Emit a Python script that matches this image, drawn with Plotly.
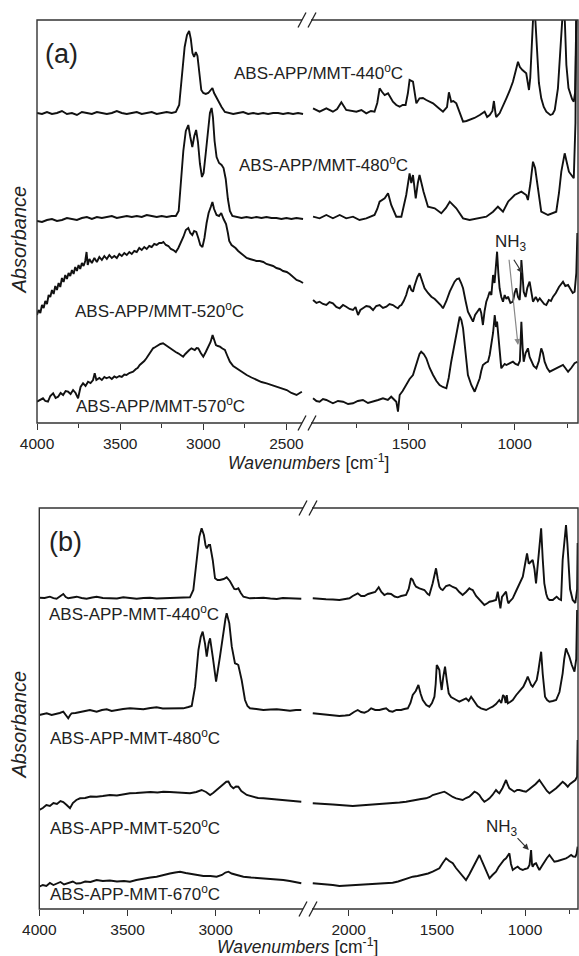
import plotly.graph_objects as go

# ---------------- DATA (wavenumber [cm-1], absorbance in arbitrary offset units) ----------------
# Panel (a) ABS-APP/MMT
a440_left = [(4000,310),(3970,309),(3940,311),(3910,309),(3880,310),(3850,312),(3820,309),(3790,310),(3760,308),
             (3730,311),(3700,310),(3670,309),(3640,311),(3610,310),(3580,309),(3550,310),(3520,312),(3490,310),
             (3460,309),(3430,310),(3400,311),(3370,309),(3340,310),(3310,311),(3280,309),(3250,310),(3220,311),
             (3190,310),(3165,311),(3145,318),(3128,345),(3112,376),(3098,388),(3085,392),(3075,384),(3065,370),
             (3055,366),(3045,371),(3035,367),(3024,350),(3012,333),(3000,330),(2985,329),(2970,330),(2955,333),
             (2945,335),(2935,330),(2920,325),(2905,321),(2890,316),(2870,311),(2850,310),(2820,309),(2790,310),
             (2760,311),(2730,309),(2700,310),(2670,309),(2640,310),(2610,309),(2580,310),(2550,310),(2520,309),
             (2490,310),(2460,309),(2430,310),(2400,309)]
a440_right = [(1954,314.7),(1923,311.3),(1891,314.7),(1860,311.3),(1840,314),(1820,320.7),(1797,313),(1775,312),
              (1749,311.3),(1725,313),(1702,309.7),(1680,312),(1663,311.3),(1650,320),(1639,334.7),(1627,331),
              (1615,328),(1599,329.7),(1588,325),(1576,321.3),(1560,318),(1544,316.3),(1530,318),(1516,318),
              (1505,330),(1497,343),(1481,341.3),(1473,330),(1465,319.7),(1450,324.7),(1434,325),(1418,323),
              (1400,321),(1386,319.7),(1360,315),(1339,311.3),(1320,316),(1311,330.7),(1300,321.3),(1290,322),
              (1276,319.7),(1260,310),(1244,301.3),(1228,302),(1213,303),(1190,305),(1165,308),(1150,310),
              (1142,311.3),(1130,306),(1118,308),(1105,312),(1098,322),(1090,309),(1087,306),(1071,309.7),
              (1055,318),(1039,324.7),(1024,332),(1008,341.3),(995,352),(984,361.3),(975,356),(963,353),
              (945,349.7),(932,333),(926,345),(921,368),(915,400),(908,425),(901,400),(894,368),(885,340),
              (874,324.7),(862,316),(850,311.3),(840,309),(831,308),(820,309),(810,313),(795,334.7),(785,365),
              (779,388),(774,410),(768,425),(762,400),(755,358),(745,335),(736,328),(728,324),(720,321.3),
              (714,330),(710,380),(707,425),(705,430)]

a480_left = [(4000,202),(3970,201),(3940,203),(3910,204),(3880,202),(3850,203),(3820,205),(3790,204),(3760,203),
             (3730,205),(3700,206),(3670,204),(3640,206),(3610,205),(3580,206),(3550,207),(3520,205),(3490,206),
             (3460,207),(3430,206),(3400,207),(3370,206),(3340,208),(3310,207),(3280,206),(3250,207),(3220,206),
             (3190,207),(3165,207),(3148,212),(3135,238),(3120,272),(3105,292),(3090,298),(3078,286),(3066,276),
             (3054,287),(3043,293),(3032,281),(3020,259),(3008,246),(2998,250),(2985,270),(2972,294),(2960,310),
             (2950,315),(2942,306),(2932,282),(2920,266),(2905,260),(2890,258),(2878,255),(2865,244),(2852,224),
             (2840,212),(2825,207),(2800,206),(2770,205),(2740,206),(2710,205),(2680,206),(2650,205),(2620,206),
             (2590,205),(2560,205),(2530,204),(2500,205),(2470,204),(2440,205),(2400,204)]
a480_right = [(1954,206.3),(1923,204.7),(1891,208),(1860,204.7),(1828,208),(1797,204.7),(1765,206.3),(1734,203),
              (1702,204.7),(1663,208),(1650,214),(1639,221.3),(1615,224.7),(1599,229.7),(1584,218),(1560,206.3),
              (1536,206.3),(1513,228),(1497,249.7),(1489,240),(1481,248),(1468,224.7),(1458,240),(1450,248),
              (1431,231.3),(1410,216.3),(1378,214.7),(1347,209.7),(1325,215),(1307,221.3),(1276,214.7),
              (1244,204.7),(1213,203),(1190,204),(1165,204.7),(1134,206.3),(1102,211.3),(1079,216.3),(1055,211.3),
              (1031,221.3),(1000,228),(968,231.3),(945,228),(937,223),(925,240),(913,261.3),(903,255),(894,241.3),
              (874,211.3),(842,208),(803,211.3),(790,230),(779,251.3),(763,269.7),(743,251.3),(720,244.7),
              (712,300),(708,425)]

a520_left = [(4000,108),(3990,113),(3980,110),(3970,118),(3960,115),(3950,122),(3940,119),(3930,128),(3920,126),
             (3910,133),(3900,129),(3890,137),(3880,133),(3870,140),(3860,136),(3850,145),(3840,141),(3830,148),
             (3820,144),(3810,150),(3800,147),(3790,153),(3780,149),(3770,156),(3760,152),(3750,158),(3740,154),
             (3730,160),(3720,157),(3710,162),(3702,171),(3695,158),(3685,164),(3670,160),(3655,165),(3640,161),
             (3625,166),(3610,163),(3595,167),(3580,164),(3565,168),(3550,165),(3535,167),(3520,165),(3505,169),
             (3490,167),(3475,170),(3460,168),(3445,171),(3430,169),(3415,172),(3400,171),(3385,175),(3370,173),
             (3355,176),(3340,174),(3325,177),(3310,176),(3295,179),(3280,178),(3265,180),(3250,180),(3240,181),
             (3225,178),(3210,177),(3195,174),(3180,173),(3165,171),(3150,175),(3135,180),(3120,186),(3105,193),
             (3090,195),(3078,190),(3066,188),(3055,192),(3042,191),(3030,185),(3018,178),(3005,176),(2993,185),
             (2980,200),(2968,210),(2955,216),(2945,221),(2935,214),(2920,208),(2905,207),(2892,210),(2878,204),
             (2863,199),(2852,190),(2844,182),(2830,178),(2806,175),(2790,172),(2770,169),(2750,166),(2739,165),
             (2720,164),(2700,163),(2680,162),(2660,162),(2639,161),(2620,159),(2599,158),(2580,157),(2560,155),
             (2540,154),(2520,152),(2498,151),(2480,149),(2460,146),(2439,143),(2420,142),(2400,140)]
a520_right = [(1954,123),(1938,120),(1923,121.3),(1907,119),(1891,118),(1876,121),(1860,119.7),(1844,116),
              (1828,114.7),(1812,118),(1797,116.3),(1781,114),(1765,113),(1753,116),(1741,108),(1730,113),
              (1718,114.7),(1702,117),(1686,116.3),(1670,113),(1655,117),(1639,118),(1623,115),(1607,116.3),
              (1592,119),(1576,118),(1563,116),(1552,114.7),(1544,117),(1536,118),(1525,122),(1513,128),
              (1505,134),(1497,138),(1489,133),(1481,131.3),(1474,137),(1468,141.3),(1460,146),(1450,149.7),
              (1438,142),(1426,134.7),(1410,130),(1394,126.3),(1378,124),(1363,121.3),(1350,118),(1339,114.7),
              (1323,122),(1307,131.3),(1295,137),(1284,141.3),(1273,144),(1263,144.7),(1253,140),(1244,134.7),
              (1232,122),(1221,111.3),(1208,106),(1197,101.3),(1187,108),(1176,112),(1165,114.7),(1158,110),
              (1150,98),(1142,112),(1134,121.3),(1126,126),(1118,131.3),(1110,128),(1102,148),(1095,140),
              (1088,160),(1083,171.3),(1077,150),(1071,134.7),(1063,126),(1055,121.3),(1047,128),(1039,124),
              (1031,126.3),(1020,120),(1008,121.3),(1000,130),(992,134.7),(984,126),(976,123),(971,140),
              (968,163),(963,145),(957,131.3),(948,126),(940,135),(929,141.3),(921,130),(913,121.3),(900,126),
              (890,122),(881,124.7),(870,121),(860,119),(850,118),(838,123),(828,122),(818,126.3),(805,130),
              (790,136),(771,141.3),(760,137),(747,138),(735,133),(725,130),(716,131.3),(708,150),(703,190)]

a570_left = [(4000,21.3),(3982,23),(3964,24.7),(3950,22),(3934,21.3),(3920,27),(3903,29.7),(3888,25),(3873,26.3),
             (3858,30),(3843,28),(3828,32),(3813,31.3),(3798,29),(3783,33),(3768,30),(3753,24.7),(3738,36),
             (3723,39.7),(3708,37),(3693,41.3),(3678,40),(3663,43),(3653,49.7),(3643,43),(3625,45),(3610,43),
             (3595,46),(3582,44.7),(3565,46),(3550,44),(3535,46.5),(3522,45.3),(3505,47),(3490,46),(3475,48.5),
             (3462,48),(3445,50),(3432,50.5),(3422,51.3),(3405,54),(3395,55),(3382,58),(3368,60),(3355,62),
             (3342,64.7),(3330,68),(3318,70),(3302,74.7),(3288,76),(3272,78),(3258,79),(3242,79.7),(3228,78),
             (3212,76.3),(3196,75),(3181,73),(3166,71),(3151,69.7),(3136,68),(3121,66.3),(3108,69),(3097,71.3),
             (3084,73),(3071,74.7),(3060,73.5),(3051,73),(3040,75),(3030,74.7),(3015,70),(3000,66.3),(2985,71),
             (2970,76.3),(2956,81),(2944,88),(2934,83),(2924,78),(2912,77),(2900,76.3),(2885,74.5),(2870,73),
             (2855,67),(2840,61.3),(2820,57),(2800,54.7),(2770,51),(2739,48),(2710,45.5),(2679,43),(2650,41),
             (2619,39.7),(2590,38),(2559,36.3),(2530,34.5),(2498,33),(2470,30),(2439,28),(2420,30),(2407,31.3)]
a570_right = [(1954,24.7),(1938,22),(1923,21.3),(1907,24),(1891,23),(1876,21),(1860,19.7),(1836,22),(1812,21.3),
              (1788,19),(1765,19.7),(1742,22),(1718,23),(1694,20),(1670,21.3),(1646,23),(1623,24.7),(1600,23),
              (1584,26.3),(1572,24),(1560,21.3),(1552,11.3),(1544,28),(1530,32),(1513,38),(1497,44),(1481,48),
              (1468,57),(1457,64.7),(1450,69),(1442,71.3),(1430,69),(1418,64.7),(1402,55),(1386,48),(1370,42),
              (1355,38),(1340,36),(1323,34.7),(1312,45),(1300,61.3),(1288,75),(1276,88),(1268,100),(1260,106.3),
              (1252,103),(1244,94.7),(1232,70),(1221,48),(1205,38),(1189,31.3),(1177,38),(1165,44.7),(1158,52),
              (1150,58),(1138,60),(1126,61.3),(1118,68),(1110,78),(1102,90),(1094,108),(1088,96),(1083,101.3),
              (1077,85),(1071,74.7),(1063,54.7),(1055,57),(1047,59),(1039,58),(1024,60),(1008,61.3),(996,59),
              (984,58),(975,62),(968,101.3),(962,75),(957,61.3),(948,70),(937,74.7),(929,66),(921,61.3),(910,57),
              (897,54.7),(885,62),(874,74.7),(866,70),(858,61.3),(846,55),(834,51.3),(818,53),(803,54.7),(787,57),
              (771,58),(760,55),(747,51.3),(732,55),(716,59.7),(703,61.3)]

# Panel (b) ABS-APP-MMT
b440_left = [(4000,311.3),(3970,311),(3940,312.3),(3920,310.8),(3902,310.3),(3884,312.5),(3864,315),(3850,312),
             (3836,310.7),(3812,311.5),(3788,312.3),(3760,311),(3732,310.3),(3700,311.5),(3675,312.3),(3640,311),
             (3599,311),(3560,310.5),(3524,311.7),(3490,311),(3448,310.3),(3410,311),(3373,311.3),(3335,310.5),
             (3297,310.7),(3260,311),(3221,311.3),(3180,311),(3146,311.7),(3127,319),(3108,349),(3093,372.3),
             (3080,380.7),(3067,374),(3058,364),(3051,360.7),(3040,364),(3032,364),(3017,349),(3004,330.7),
             (2990,329),(2976,329),(2955,330),(2938,331.7),(2920,328),(2909,324),(2895,320),(2885,319.7),
             (2872,320.7),(2858,316),(2843,312.3),(2806,310.7),(2770,311),(2730,311.3),(2690,310.5),(2654,310),
             (2620,311),(2579,311),(2545,310.5),(2515,310.3)]
b440_right = [(2204,310.7),(2170,310),(2129,309.7),(2090,309.5),(2053,309),(2020,310),(1996,310.7),(1977,313),
              (1949,315.7),(1930,313),(1911,313),(1890,315),(1873,315.7),(1850,317),(1830,321.7),(1815,317),
              (1798,314),(1780,315.5),(1760,315),(1740,312.5),(1722,311.7),(1703,313),(1675,314),(1660,320),
              (1647,330.7),(1637,329),(1628,325),(1618,322.3),(1599,320.7),(1580,320),(1571,319),(1552,315),
              (1543,314),(1524,325.7),(1514,335),(1505,340.7),(1495,330),(1486,322.3),(1477,320),(1467,319),
              (1448,323),(1429,324),(1410,322),(1391,320.7),(1373,317),(1354,314),(1335,317),(1316,320.7),
              (1306,319.5),(1297,319),(1278,313),(1259,309),(1240,306),(1231,304),(1212,306),(1202,307.3),
              (1184,308),(1165,309),(1155,317.3),(1146,305),(1140,300.7),(1131,312),(1117,315.7),(1108,317.3),
              (1100,309),(1095,305.7),(1085,308),(1070,310.7),(1051,318),(1032,325.7),(1013,332.3),(1000,345),
              (989,355.7),(980,346),(976,345.7),(957,349),(947,340),(938,325.7),(928,345),(923,359),(914,375),
              (909,380.7),(900,350),(891,325.7),(880,315),(872,310.7),(862,309),(843,309),(830,311),(821,312.3),
              (808,310),(796,309),(787,349),(777,370),(768,384),(760,365),(753,342.3),(745,320),(730,309),
              (715,306),(705,320),(702,366)]

b480_left = [(4000,194),(3980,195),(3958,195.7),(3930,194),(3902,195),(3884,196),(3864,197.3),(3850,194),
             (3836,190.7),(3825,194),(3817,195.7),(3795,196),(3769,197.3),(3740,198),(3713,199),(3690,198),
             (3675,197.3),(3645,199),(3618,199.7),(3590,198),(3562,199),(3525,200),(3486,200.7),(3450,200),
             (3410,199.7),(3370,201),(3335,201.7),(3300,200.5),(3259,200.7),(3220,201),(3184,200.7),(3155,202),
             (3136,203),(3117,222.3),(3098,259),(3085,272),(3074,277.3),(3061,265.7),(3051,252.3),(3040,266),
             (3032,270.7),(3017,252.3),(2998,227.3),(2976,252.3),(2957,277.3),(2945,290),(2938,295.7),(2923,285.7),
             (2909,262.3),(2891,245.7),(2880,245),(2872,244),(2853,229),(2834,209),(2820,203),(2806,200.7),
             (2770,200),(2730,199),(2690,199.5),(2654,199.7),(2615,199),(2579,198.3),(2545,199),(2515,199)]
b480_right = [(2204,195.7),(2165,195),(2129,194),(2090,193.5),(2053,193),(2020,193.5),(1996,194),(1970,197),
              (1949,199),(1930,197),(1911,196.3),(1890,198),(1873,200.7),(1850,199),(1826,199),(1805,200),
              (1788,200.7),(1770,198),(1751,197.3),(1730,199),(1703,199),(1685,200),(1665,200.7),(1650,206),
              (1637,214),(1620,218),(1605,224),(1592,215),(1580,209),(1560,204),(1543,202.3),(1528,206),
              (1514,212.3),(1507,225),(1501,244),(1494,242),(1486,239),(1480,228),(1473,219),(1464,232),
              (1454,242.3),(1445,230),(1433,215.7),(1420,212),(1410,210.7),(1390,209),(1373,207.3),(1355,209),
              (1335,210.7),(1320,208),(1306,212.3),(1297,210),(1287,207.3),(1270,203),(1250,200.7),(1235,199.5),
              (1221,199),(1200,201),(1184,202.3),(1165,205),(1146,209),(1135,206),(1125,214),(1117,212.3),
              (1110,206),(1104,214),(1098,205.7),(1085,207),(1070,209),(1050,214),(1032,217.3),(1020,220),
              (1010,222.3),(995,228),(985,232.3),(975,228),(966,224),(957,222.3),(945,226),(934,229),(925,238),
              (917,250),(909,257.3),(900,235),(887,212.3),(875,209),(862,207.3),(843,208),(824,209),(805,217),
              (787,235.7),(778,250),(768,260.7),(760,257),(749,252.3),(735,244),(720,237.3),(710,250),(705,299)]

b520_left = [(4000,99),(3980,101),(3960,104),(3940,103),(3920,106),(3900,105),(3880,108),(3864,107),(3845,104),
             (3826,100.7),(3810,106),(3790,109),(3769,110.7),(3740,111),(3710,112.5),(3675,112.3),(3640,113),
             (3600,114),(3560,113.5),(3520,115),(3486,115.7),(3450,116),(3410,116.5),(3370,117),(3330,116.5),
             (3297,117.3),(3260,117),(3220,116.5),(3180,116),(3146,115.7),(3110,117),(3080,119),(3055,117),
             (3032,114),(3015,116),(2995,119),(2975,122),(2955,125),(2940,127.3),(2928,127.5),(2915,123),
             (2900,120.7),(2885,122.5),(2872,122.3),(2855,118),(2824,114),(2790,112),(2760,111),(2730,110.7),
             (2690,110),(2650,109.5),(2617,109),(2580,108.5),(2540,108),(2515,107.3)]
b520_right = [(2204,105.7),(2165,105.5),(2129,105),(2090,104.5),(2053,104),(2015,103.5),(1977,103),(1940,103.5),
              (1902,104),(1865,104.5),(1826,105),(1790,105),(1751,105.7),(1712,106.5),(1675,107.3),(1645,108),
              (1618,109),(1590,110),(1562,110.7),(1540,112),(1524,114),(1505,115),(1486,115.7),(1470,116.5),
              (1458,117.3),(1445,116),(1429,114),(1410,112),(1391,110.7),(1372,110),(1354,109),(1335,111),
              (1316,112.3),(1300,115),(1287,117.3),(1272,116),(1259,114),(1245,110),(1231,107.3),(1215,109),
              (1202,110.7),(1185,114),(1165,119),(1155,117),(1146,115.7),(1128,121),(1108,129),(1098,124),
              (1089,120.7),(1075,119),(1061,117.3),(1045,119),(1032,119),(1013,118),(995,117.3),(975,120),
              (957,122.3),(940,125),(919,129),(905,125),(891,122.3),(876,118),(862,115.7),(843,118),(824,120.7),
              (805,124),(787,127.3),(772,125),(758,122.3),(745,125),(730,127.3),(715,129),(705,132.3),(702,169)]

b670_left = [(4000,22.3),(3980,24),(3960,23),(3940,26),(3920,24),(3902,25.7),(3880,27),(3860,24.5),(3840,26),
             (3810,27.5),(3790,25.5),(3769,25.7),(3740,27.5),(3710,27),(3675,29),(3640,28),(3600,28.5),
             (3560,27.5),(3520,28),(3486,27.3),(3450,29),(3410,30.5),(3370,31.5),(3335,32.3),(3300,34),
             (3260,35.5),(3230,36.5),(3202,37.3),(3170,36),(3140,35),(3108,34),(3070,33),(3030,33),(2995,32.3),
             (2965,34),(2945,36.5),(2928,37.3),(2910,35.5),(2880,34),(2843,32.3),(2800,31.5),(2760,31),
             (2730,30.7),(2690,30),(2650,29.5),(2617,29),(2580,28),(2540,26.5),(2515,25.7)]
b670_right = [(2204,25.7),(2165,25.3),(2129,25),(2090,24),(2053,23),(2015,23.5),(1977,24),(1940,24.5),
              (1902,25),(1865,25.3),(1826,25.7),(1790,26),(1751,26.3),(1720,27.5),(1694,29),(1665,30.5),
              (1637,32.3),(1610,33),(1580,34),(1550,35.5),(1524,37.3),(1505,39),(1486,40.7),(1467,46),
              (1448,50.7),(1430,48),(1410,45.7),(1392,41),(1373,37.3),(1355,33),(1335,29),(1315,35),(1297,40.7),
              (1278,48),(1259,54),(1245,48),(1231,42.3),(1215,35),(1202,30.7),(1185,34),(1165,37.3),(1150,42),
              (1136,45.7),(1120,49),(1108,50.7),(1098,53),(1089,55.7),(1080,45),(1070,39),(1055,41),(1042,42.3),
              (1028,40),(1013,39),(1000,40),(985,40.7),(975,44),(966,59),(961,45),(957,42.3),(948,45),(938,45.7),
              (928,42),(919,39),(905,43),(891,47.3),(876,51),(862,54),(848,50),(834,47.3),(815,48),(796,49),
              (782,50),(768,50.7),(755,52),(739,54),(727,52.5),(715,52.3),(708,55),(702,62.3)]

# Axis ticks / ranges (wavenumbers)
a_left_range = [4000, 2378]
a_right_range = [1984, 700]
b_left_range = [4000, 2511]
b_right_range = [2227, 700]
major_dtick = 500
minor_dtick = 250

labels_a = ["ABS-APP/MMT-440<sup>o</sup>C", "ABS-APP/MMT-480<sup>o</sup>C",
            "ABS-APP/MMT-520<sup>o</sup>C", "ABS-APP/MMT-570<sup>o</sup>C"]
labels_b = ["ABS-APP-MMT-440<sup>o</sup>C", "ABS-APP-MMT-480<sup>o</sup>C",
            "ABS-APP-MMT-520<sup>o</sup>C", "ABS-APP-MMT-670<sup>o</sup>C"]

# ---------------- FIGURE ----------------
W, H = 579, 956
ML, MR, MT, MB = 37, 1, 20, 47
PW, PH = W - ML - MR, H - MT - MB


def fx(px):
    return (px - ML) / PW


def fy(py):
    return (H - MB - py) / PH


FONT = "Arial, Liberation Sans, sans-serif"
LINE = dict(color="#111111", width=1.9)

fig = go.Figure()

series = [
    (a440_left, "x", "y"), (a440_right, "x2", "y"),
    (a480_left, "x", "y"), (a480_right, "x2", "y"),
    (a520_left, "x", "y"), (a520_right, "x2", "y"),
    (a570_left, "x", "y"), (a570_right, "x2", "y"),
    (b440_left, "x3", "y2"), (b440_right, "x4", "y2"),
    (b480_left, "x3", "y2"), (b480_right, "x4", "y2"),
    (b520_left, "x3", "y2"), (b520_right, "x4", "y2"),
    (b670_left, "x3", "y2"), (b670_right, "x4", "y2"),
]
for pts, xa, ya in series:
    wn, ab = zip(*pts)
    fig.add_trace(go.Scatter(x=list(wn), y=list(ab), mode="lines", line=LINE,
                             xaxis=xa, yaxis=ya, hoverinfo="skip", showlegend=False))

ya_dom = [fy(423), 1.0]
yb_dom = [0.0, fy(508)]


def xaxis(domain, rng, anchor):
    return dict(domain=domain, range=rng, anchor=anchor, dtick=major_dtick, tick0=0,
                ticks="outside", ticklen=6, tickwidth=1.3, tickcolor="#333",
                minor=dict(dtick=minor_dtick, tick0=0, ticks="outside", ticklen=4,
                           tickwidth=1.2, tickcolor="#333"),
                showgrid=False, zeroline=False, showline=False,
                tickfont=dict(family=FONT, size=15.5, color="#222"))


def yaxis(domain, rng, anchor):
    return dict(domain=domain, range=rng, anchor=anchor, showticklabels=False, ticks="",
                showgrid=False, zeroline=False, showline=False, fixedrange=True)


fig.update_layout(
    width=W, height=H, margin=dict(l=ML, r=MR, t=MT, b=MB),
    paper_bgcolor="white", plot_bgcolor="white", showlegend=False,
    xaxis=xaxis([0.0, fx(306.7)], a_left_range, "y"),
    xaxis2=xaxis([fx(306.7), 1.0], a_right_range, "y"),
    xaxis3=xaxis([fx(39.3), fx(302)], b_left_range, "y2"),
    xaxis4=xaxis([fx(308.7), 1.0], b_right_range, "y2"),
    yaxis=yaxis(ya_dom, [0, 403], "x"),
    yaxis2=yaxis(yb_dom, [0, 401], "x3"),
)

shapes = []
FR = dict(color="#333333", width=1.4)
shapes.append(dict(type="rect", xref="paper", yref="paper", x0=0, x1=1, y0=ya_dom[0], y1=ya_dom[1], line=FR))
shapes.append(dict(type="rect", xref="paper", yref="paper", x0=fx(39.3), x1=1, y0=yb_dom[0], y1=yb_dom[1], line=FR))

# axis break marks "//"
for xb, yline in [(307, 20), (307, 423), (308, 508), (308, 909)]:
    shapes.append(dict(type="line", xref="paper", yref="paper", x0=fx(xb - 5), x1=fx(xb + 4),
                       y0=fy(yline), y1=fy(yline), line=dict(color="white", width=4)))
    for off in (-5, 5):
        shapes.append(dict(type="line", xref="paper", yref="paper",
                           x0=fx(xb + off - 4), y0=fy(yline + 7.5),
                           x1=fx(xb + off + 4), y1=fy(yline - 7.5),
                           line=dict(color="#222", width=1.3)))
fig.update_layout(shapes=shapes)

ann = []
TF = dict(family=FONT, size=17, color="#222")


def note(text, px, py, xanchor="center", yanchor="middle", **kw):
    d = dict(text=text, xref="paper", yref="paper", x=fx(px), y=fy(py), xanchor=xanchor,
             yanchor=yanchor, showarrow=False)
    d.update(kw)
    return d


label_pos_a = [(232, 72), (237, 164), (73, 310), (74, 405)]
label_pos_b = [(47, 613), (48, 737), (48, 827), (48, 893)]
for txt, (px, py) in list(zip(labels_a, label_pos_a)) + list(zip(labels_b, label_pos_b)):
    ann.append(note(txt, px, py, xanchor="left", font=TF))

ann.append(note("(a)", 61.5, 54, font=dict(family=FONT, size=27, color="#222")))
ann.append(note("(b)", 65.5, 542, font=dict(family=FONT, size=27, color="#222")))

for yc in (240, 725):
    ann.append(note("<i>Absorbance</i>", 18.5, yc, textangle=-90,
                    font=dict(family=FONT, size=20, color="#222")))
for xc, yc in [(308, 462), (297, 946)]:
    ann.append(note("<i>Wavenumbers</i> [cm<sup>-1</sup>]", xc, yc,
                    font=dict(family=FONT, size=17.5, color="#222")))

ann.append(note("NH<sub>3</sub>", 511, 243, font=dict(family=FONT, size=17, color="#222")))
ann.append(note("NH<sub>3</sub>", 502, 828, font=dict(family=FONT, size=17, color="#222")))

# NH3 arrows
ann.append(dict(text="", x=984, y=78, xref="x2", yref="y", ax=1027, ay=164.7, axref="x2", ayref="y",
                showarrow=True, arrowhead=2, arrowsize=1, arrowwidth=1.2, arrowcolor="#888"))
ann.append(dict(text="", x=963, y=149.7, xref="x2", yref="y", ax=1008, ay=164.7, axref="x2", ayref="y",
                showarrow=True, arrowhead=2, arrowsize=1, arrowwidth=1.2, arrowcolor="#333"))
ann.append(dict(text="", x=979, y=59, xref="x4", yref="y2", ax=1051, ay=72.3, axref="x4", ayref="y2",
                showarrow=True, arrowhead=2, arrowsize=1, arrowwidth=1.2, arrowcolor="#333"))

fig.update_layout(annotations=ann)
fig.write_html("out.html")
